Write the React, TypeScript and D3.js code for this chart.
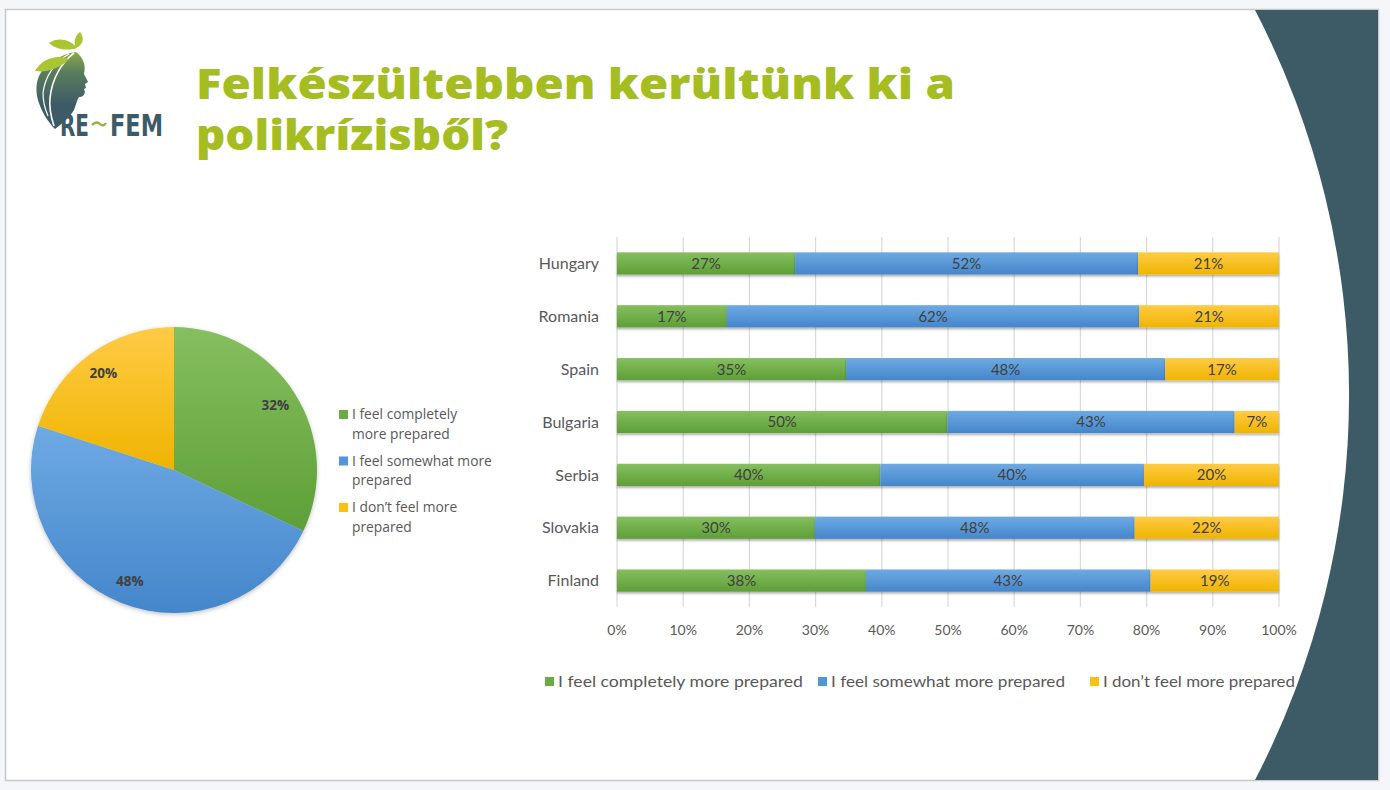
import React from 'react';
import * as d3 from 'd3';

const categories = ['Hungary', 'Romania', 'Spain', 'Bulgaria', 'Serbia', 'Slovakia', 'Finland'];
const completely = [26.9, 16.6, 34.6, 49.9, 39.8, 29.9, 37.6];
const somewhat = [51.8, 62.3, 48.2, 43.4, 39.8, 48.3, 43.0];
const notMore = [21.3, 21.1, 17.2, 6.7, 20.4, 21.8, 19.4];
const seriesNames = ['I feel completely more prepared', 'I feel somewhat more prepared', 'I don\u2019t feel more prepared'];
const pieValues = [32, 48, 20];
const pieLegendLines = [
  ['I feel completely', 'more prepared'],
  ['I feel somewhat more', 'prepared'],
  ['I don\u2019t feel more', 'prepared'],
];
const xTicks = [0, 10, 20, 30, 40, 50, 60, 70, 80, 90, 100];
const titleLines = ['Felkészültebben kerültünk ki a', 'polikrízisből?'];

const keys = ['c', 's', 'n'];
const gradIds = ['gGreen', 'gBlue', 'gYellow'];
const solid = ['#6aab45', '#5096d8', '#fbc012'];

export default function App() {
  const rows = categories.map((cat, i) => ({ cat, c: completely[i], s: somewhat[i], n: notMore[i] }));
  const stacked = d3.stack<any>().keys(keys)(rows);

  const x = d3.scaleLinear().domain([0, 100]).range([617, 1279]);
  const y = d3.scaleBand().domain(categories).range([237, 607]).paddingInner(0).paddingOuter(0);
  const barH = y.bandwidth() * 0.42;

  const R = 143;
  const pcx = 174, pcy = 470;
  const pie = d3.pie<number>().sort(null).startAngle(0).endAngle(2 * Math.PI)(pieValues);
  const arc = d3.arc<any>().innerRadius(0).outerRadius(R);
  const labelArc = d3.arc<any>().innerRadius(R * 0.84).outerRadius(R * 0.84);

  const legendX = [545, 818, 1090];
  const legendWidths = [245, 234, 192];

  return (
    <svg width={1390} height={790} style={{ position: 'absolute', left: 0, top: 0 }}>
      <defs>
        <linearGradient id="gGreen" x1="0" y1="0" x2="0" y2="1">
          <stop offset="0" stopColor="#86bf5f" />
          <stop offset="1" stopColor="#5d9f37" />
        </linearGradient>
        <linearGradient id="gBlue" x1="0" y1="0" x2="0" y2="1">
          <stop offset="0" stopColor="#6eaae3" />
          <stop offset="1" stopColor="#4486cb" />
        </linearGradient>
        <linearGradient id="gYellow" x1="0" y1="0" x2="0" y2="1">
          <stop offset="0" stopColor="#ffcb45" />
          <stop offset="1" stopColor="#efb400" />
        </linearGradient>
        <linearGradient id="headGrad" x1="0" y1="50" x2="0" y2="105" gradientUnits="userSpaceOnUse">
          <stop offset="0" stopColor="#8fb045" />
          <stop offset="0.4" stopColor="#5a7d5c" />
          <stop offset="1" stopColor="#3d5b67" />
        </linearGradient>
        <filter id="barShadow" x="-5%" y="-30%" width="110%" height="180%">
          <feDropShadow dx="0" dy="2" stdDeviation="1.3" floodColor="#000" floodOpacity="0.3" />
        </filter>
        <filter id="pieShadow" x="-10%" y="-10%" width="120%" height="120%">
          <feDropShadow dx="0" dy="1.5" stdDeviation="2" floodColor="#000" floodOpacity="0.25" />
        </filter>
      </defs>

      {/* page background and slide frame */}
      <rect x={0} y={0} width={1390} height={790} fill="#f4f6f9" />
      <rect x={5.5} y={9.5} width={1373} height={771} fill="#ffffff" stroke="#c8c8c8" strokeWidth={1.5} />
      <path d="M1255,10 A835,835 0 0 1 1255,780 L1378,780 L1378,10 Z" fill="#3d5b67" />

      {/* logo */}
      <g>
        <path
          d="M76,52 C84,58 86,66 84,74 L88,82 L85,84 L86,88 L84,89 L85,92 C84,96 82,97 79,97 C77,100 76,105 74,110 C70,117 63,123 55,129 C48,122 40,110 37,96 C35,84 38,74 46,66 C56,58 66,53 76,52 Z"
          fill="url(#headGrad)"
        />
        <path d="M74,53 C62,62 52,78 50,98 C49,108 51,117 54,126" fill="none" stroke="#fff" strokeWidth={1.6} />
        <path d="M69,54 C55,62 45,76 43,93 C43,102 45,109 48,116" fill="none" stroke="#fff" strokeWidth={1.2} />
        <path d="M35,71 C42,58 58,54 69,59 C60,68 48,73 35,71 Z" fill="#a9c532" />
        <path d="M49,43 C58,37 70,39 77,48 C68,51 56,50 49,43 Z" fill="#a9c532" />
        <path d="M80,32 C85,38 83,45 76,48 C73,42 75,36 80,32 Z" fill="#a9c532" />
        <text x={60} y={136} fontFamily="'DejaVu Sans Condensed', 'DejaVu Sans'" fontWeight={700} fontSize={30}
          fill="#3d5b67" textLength={29} lengthAdjust="spacingAndGlyphs">RE</text>
        <path d="M92,125 C95,122 98,122 100,124 C102,126 104,126 106,123" fill="none" stroke="#8fb33a" strokeWidth={2.2} />
        <text x={110} y={136} fontFamily="'DejaVu Sans Condensed', 'DejaVu Sans'" fontWeight={700} fontSize={30}
          fill="#3d5b67" textLength={53} lengthAdjust="spacingAndGlyphs">FEM</text>
      </g>

      {/* title */}
      <text x={196} y={99} fontFamily="'Open Sans', Lato, sans-serif" fontWeight={800} fontSize={43}
        fill="#a5bd20" textLength={759} lengthAdjust="spacingAndGlyphs">{titleLines[0]}</text>
      <text x={196} y={150} fontFamily="'Open Sans', Lato, sans-serif" fontWeight={800} fontSize={43}
        fill="#a5bd20" textLength={312} lengthAdjust="spacingAndGlyphs">{titleLines[1]}</text>

      {/* pie */}
      <g transform={`translate(${pcx},${pcy})`} filter="url(#pieShadow)">
        {pie.map((p, i) => (
          <path key={i} d={arc(p) || ''} fill={`url(#${gradIds[i]})`} />
        ))}
      </g>
      <g transform={`translate(${pcx},${pcy})`}>
        {pie.map((p, i) => {
          const [lx, ly] = labelArc.centroid(p);
          return (
            <text key={i} x={lx} y={ly} dy="0.35em" textAnchor="middle" fontFamily="'Open Sans', sans-serif"
              fontWeight={700} fontSize={13.5} fill="#404040">{`${pieValues[i]}%`}</text>
          );
        })}
      </g>
      {pieLegendLines.map((lines, i) => {
        const by = 419 + i * 46.5;
        return (
          <g key={i}>
            <rect x={339} y={by - 9} width={9} height={9} fill={solid[i]} />
            {lines.map((t, j) => (
              <text key={j} x={352} y={by + j * 19.5} fontFamily="'Open Sans', sans-serif" fontSize={13.8} fill="#595959">{t}</text>
            ))}
          </g>
        );
      })}

      {/* bar chart gridlines */}
      {xTicks.map((t) => (
        <line key={t} x1={x(t)} x2={x(t)} y1={237} y2={607} stroke="#d9d9d9" strokeWidth={1.2} />
      ))}

      {/* bars */}
      {stacked.map((series, si) => (
        <g key={si} filter="url(#barShadow)">
          {series.map((d, i) => {
            const yy = (y(categories[i]) as number) + (y.bandwidth() - barH) / 2;
            return (
              <rect key={i} x={x(d[0])} y={yy} width={x(d[1]) - x(d[0])} height={barH} fill={`url(#${gradIds[si]})`} />
            );
          })}
        </g>
      ))}
      {stacked.map((series, si) => (
        <g key={'l' + si}>
          {series.map((d, i) => {
            const cy = (y(categories[i]) as number) + y.bandwidth() / 2;
            return (
              <text key={i} x={(x(d[0]) + x(d[1])) / 2} y={cy} dy="0.36em" textAnchor="middle"
                fontFamily="Lato, sans-serif" fontSize={15} fill="#404040">{`${Math.round(d[1] - d[0])}%`}</text>
            );
          })}
        </g>
      ))}

      {/* category labels */}
      {categories.map((c) => (
        <text key={c} x={599} y={(y(c) as number) + y.bandwidth() / 2} dy="0.36em" textAnchor="end"
          fontFamily="Lato, sans-serif" fontSize={16} fill="#595959">{c}</text>
      ))}

      {/* x tick labels */}
      {xTicks.map((t) => (
        <text key={t} x={x(t)} y={635} textAnchor="middle" fontFamily="Lato, sans-serif" fontSize={14} fill="#595959">{`${t}%`}</text>
      ))}

      {/* bottom legend */}
      {seriesNames.map((n, i) => (
        <g key={n}>
          <rect x={legendX[i]} y={677} width={9} height={9} fill={solid[i]} />
          <text x={legendX[i] + 13} y={687} fontFamily="Lato, sans-serif" fontSize={16} fill="#595959"
            textLength={legendWidths[i]} lengthAdjust="spacingAndGlyphs">{n}</text>
        </g>
      ))}
    </svg>
  );
}
